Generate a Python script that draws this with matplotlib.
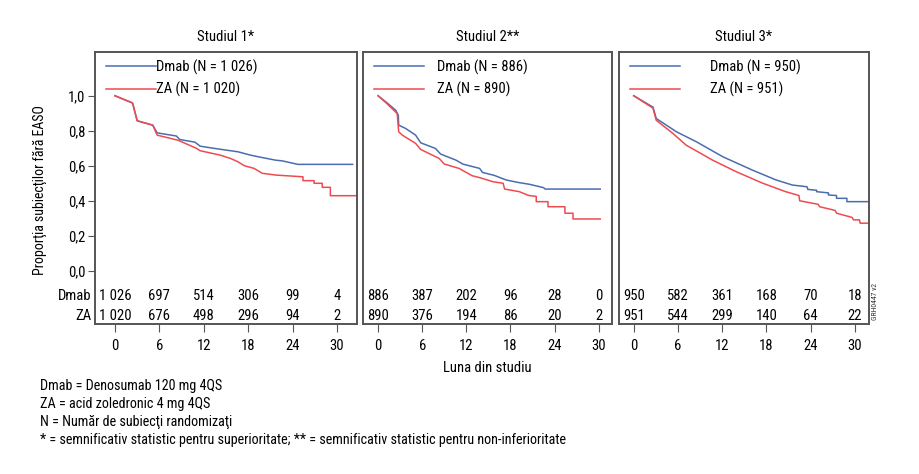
import matplotlib
matplotlib.use('Agg')
import matplotlib.pyplot as plt

plt.rcParams['font.family'] = ['Liberation Sans Narrow', 'Arial Narrow', 'Roboto Condensed',
                               'Liberation Sans', 'DejaVu Sans']

# ---- data ----
titles = ['Studiul 1*', 'Studiul 2**', 'Studiul 3*']
dmab_labels = ['Dmab (N = 1 026)', 'Dmab (N = 886)', 'Dmab (N = 950)']
za_labels = ['ZA (N = 1 020)', 'ZA (N = 890)', 'ZA (N = 951)']
months = [0, 6, 12, 18, 24, 30]

# study 1 (month, proportion without SRE)
s1_dmab_t = [0, 2.3, 2.4, 3.0, 5.1, 5.7, 8.3, 8.75, 10.8, 11.5, 13.3, 16.6, 18.2, 19.4,
             21.7, 22.6, 24.5, 24.7, 32.1]
s1_dmab_s = [1.0, 0.96, 0.955, 0.857, 0.832, 0.788, 0.77, 0.75, 0.735, 0.712, 0.70, 0.68,
             0.662, 0.651, 0.632, 0.628, 0.61, 0.608, 0.608]
s1_za_t = [0, 2.3, 2.4, 3.0, 5.1, 5.7, 8.5, 11.0, 11.5, 14.2, 15.6, 16.6, 17.5, 18.8, 19.9,
           21.7, 25.4, 25.4, 26.9, 26.9, 28.0, 28.0, 29.1, 29.1, 32.8]
s1_za_s = [1.0, 0.96, 0.955, 0.857, 0.832, 0.775, 0.746, 0.70, 0.686, 0.661, 0.642, 0.623,
           0.60, 0.585, 0.557, 0.547, 0.537, 0.515, 0.515, 0.50, 0.50, 0.477, 0.477, 0.429,
           0.429]

# study 2
s2_dmab_t = [0, 1.2, 2.4, 2.75, 2.8, 3.75, 5.1, 5.8, 7.8, 8.5, 10.6, 11.5, 13.8, 14.2, 15.8,
             17.4, 19.0, 20.6, 22.5, 22.7, 30.2]
s2_dmab_s = [1.0, 0.96, 0.917, 0.889, 0.832, 0.813, 0.775, 0.731, 0.699, 0.667, 0.632, 0.61,
             0.585, 0.562, 0.545, 0.519, 0.505, 0.494, 0.475, 0.467, 0.467]
s2_za_t = [0, 1.2, 2.6, 2.8, 3.3, 5.1, 5.8, 8.3, 9.0, 11.0, 12.8, 14.0, 15.6, 17.0, 17.2,
           19.2, 20.5, 21.5, 21.5, 23.1, 23.1, 25.4, 25.4, 26.5, 26.5, 30.2]
s2_za_s = [1.0, 0.955, 0.898, 0.794, 0.775, 0.728, 0.693, 0.642, 0.61, 0.585, 0.543, 0.53,
           0.509, 0.50, 0.467, 0.452, 0.43, 0.425, 0.395, 0.395, 0.366, 0.366, 0.329, 0.329,
           0.296, 0.296]

# study 3
s3_dmab_t = [0, 2.4, 2.6, 3.05, 5.8, 8.5, 12.1, 16.1, 19.3, 21.5, 23.5, 23.6, 24.8, 24.8,
             26.4, 26.4, 27.5, 27.5, 28.9, 28.9, 31.7]
s3_dmab_s = [1.0, 0.94, 0.936, 0.87, 0.794, 0.737, 0.651, 0.575, 0.519, 0.49, 0.48, 0.465,
             0.46, 0.452, 0.445, 0.433, 0.43, 0.414, 0.414, 0.395, 0.395]
s3_za_t = [0, 2.4, 2.6, 3.05, 5.3, 7.1, 10.7, 13.9, 17.5, 20.6, 22.4, 22.5, 25.0, 25.2, 27.3,
           27.5, 29.6, 29.8, 30.6, 30.7, 31.9]
s3_za_s = [1.0, 0.935, 0.93, 0.86, 0.785, 0.718, 0.632, 0.566, 0.50, 0.452, 0.43, 0.40, 0.38,
           0.366, 0.345, 0.329, 0.305, 0.291, 0.291, 0.272, 0.272]

# numbers at risk
risk_dmab = [['1 026', '697', '514', '306', '99', '4'],
             ['886', '387', '202', '96', '28', '0'],
             ['950', '582', '361', '168', '70', '18']]
risk_za = [['1 020', '676', '498', '296', '94', '2'],
           ['890', '376', '194', '86', '20', '2'],
           ['951', '544', '299', '140', '64', '22']]

footnotes = ['Dmab = Denosumab 120 mg 4QS',
             'ZA = acid zoledronic 4 mg 4QS',
             'N = Număr de subiecţi randomizaţi',
             '* = semnificativ statistic pentru superioritate; ** = semnificativ statistic pentru non-inferioritate']

curves = [(s1_dmab_t, s1_dmab_s, s1_za_t, s1_za_s),
          (s2_dmab_t, s2_dmab_s, s2_za_t, s2_za_s),
          (s3_dmab_t, s3_dmab_s, s3_za_t, s3_za_s)]

BLUE = '#4a6db0'
RED = '#ee4b50'
EDGE = '#555555'
FS = 10.5

W, H = 920, 474
fig = plt.figure(figsize=(W / 100, H / 100), dpi=100)

# panel boxes in pixels: left, right
boxes = [(95, 357), (363, 612), (619, 869)]
xlims = [(-2.7, 32.7), (-2.05, 31.8), (-2.0, 31.9)]
top_px, bot_px = 52, 324
pads = [0.0, 0.9, 2.05]
ROW_D, ROW_Z = -0.146, -0.260

for i, (l, r) in enumerate(boxes):
    ax = fig.add_axes([l / W, 1 - bot_px / H, (r - l) / W, (bot_px - top_px) / H])
    dt, ds, zt, zs = curves[i]
    ax.plot(dt, ds, color=BLUE, lw=1.1, label=dmab_labels[i])
    ax.plot(zt, zs, color=RED, lw=1.1, label=za_labels[i])
    ax.set_xlim(*xlims[i])
    ax.set_ylim(-0.304, 1.25)
    ax.set_xticks(months)
    ax.set_xticklabels([str(m) for m in months], fontsize=FS)
    ax.tick_params(axis='x', length=6, pad=5, color=EDGE)
    for sp in ax.spines.values():
        sp.set_color(EDGE)
        sp.set_linewidth(1.4)
    if i == 0:
        yt = [0.0, 0.2, 0.4, 0.6, 0.8, 1.0]
        ax.set_yticks(yt)
        ax.set_yticklabels([('%.1f' % v).replace('.', ',') for v in yt], fontsize=FS)
        ax.tick_params(axis='y', length=5, pad=2, color=EDGE)
        ax.text(-0.012, ROW_D, 'Dmab', transform=ax.get_yaxis_transform(),
                ha='right', va='center', fontsize=FS)
        ax.text(-0.012, ROW_Z, 'ZA', transform=ax.get_yaxis_transform(),
                ha='right', va='center', fontsize=FS)
    else:
        ax.set_yticks([])
    ax.set_title(titles[i], fontsize=FS, pad=8)
    for m, a, b in zip(months, risk_dmab[i], risk_za[i]):
        ax.text(m, ROW_D, a, ha='center', va='center', fontsize=FS)
        ax.text(m, ROW_Z, b, ha='center', va='center', fontsize=FS)
    ax.legend(loc='upper left', bbox_to_anchor=(0.008, 1.005), frameon=False, fontsize=FS,
              handlelength=3.42, handletextpad=pads[i], labelspacing=0.5,
              borderaxespad=0.2)

fig.text(40 / W, 1 - 190 / H, 'Proporţia subiecţilor fără EASO', rotation=90,
         ha='center', va='center', fontsize=10)
fig.text(487 / W, 1 - 368 / H, 'Luna din studiu', ha='center', va='center', fontsize=FS)
fig.text(875 / W, 1 - 302 / H, 'GRH0447 v2', rotation=90, ha='center', va='center',
         fontsize=5.5, color='#333333')

for k, line in enumerate(footnotes):
    fig.text(40 / W, 1 - (386 + 18 * k) / H, line, ha='left', va='center', fontsize=10.2)

fig.savefig('out.png', dpi=100)
